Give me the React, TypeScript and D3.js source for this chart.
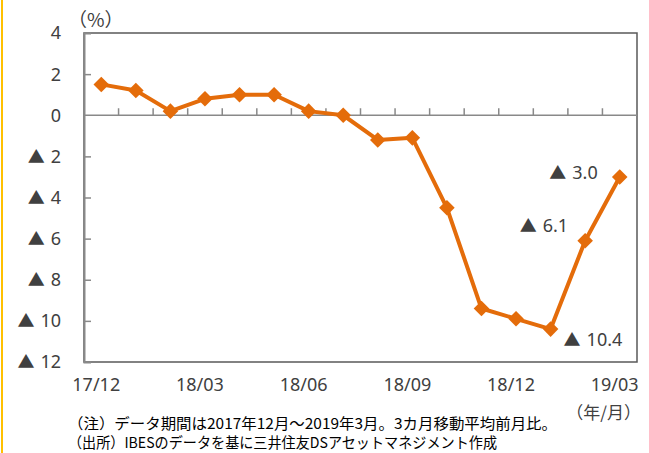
import React, { useEffect, useRef } from 'react';
import * as d3 from 'd3';

// 3カ月移動平均前月比 (%)
const months = [
  '17/12', '18/01', '18/02', '18/03', '18/04', '18/05', '18/06', '18/07',
  '18/08', '18/09', '18/10', '18/11', '18/12', '19/01', '19/02', '19/03',
];
const values = [1.5, 1.2, 0.2, 0.8, 1.0, 1.0, 0.2, 0.0, -1.2, -1.1, -4.5, -9.4, -9.9, -10.4, -6.1, -3.0];
const yTicks = [4, 2, 0, -2, -4, -6, -8, -10, -12];
const xTickLabels = ['17/12', '18/03', '18/06', '18/09', '18/12', '19/03'];
const callouts = [
  { month: '19/01', text: '10.4' },
  { month: '19/02', text: '6.1' },
  { month: '19/03', text: '3.0' },
];
const notes = [
  '（注）データ期間は2017年12月～2019年3月。3カ月移動平均前月比。',
  '（出所）IBESのデータを基に三井住友DSアセットマネジメント作成',
];

const W = 649;
const H = 453;
const NUM_FONT = '"Noto Sans", sans-serif';
const JP_FONT = '"Noto Sans CJK JP", sans-serif';
const TEXT = '#404040';
const ORANGE = '#E46C0A';

// writes "▲ n" with a full-width triangle for negatives
function addNum(sel: any, v: string, neg: boolean) {
  if (neg) {
    sel
      .append('tspan')
      .attr('font-family', JP_FONT)
      .attr('font-size', 17)
      .text('▲');
    sel.append('tspan').attr('dx', 6).text(v);
  } else {
    sel.append('tspan').text(v);
  }
}

export default function App() {
  const ref = useRef<SVGSVGElement>(null);

  useEffect(() => {
    const svg = d3.select(ref.current);
    svg.selectAll('*').remove();

    const margin = { top: 33, right: 12, bottom: 91, left: 84 };
    const x = d3
      .scaleBand()
      .domain(months)
      .range([margin.left, W - margin.right]);
    const y = d3
      .scaleLinear()
      .domain([-12, 4])
      .range([H - margin.bottom, margin.top]);

    // yellow side bar
    svg
      .append('line')
      .attr('x1', 2)
      .attr('x2', 2)
      .attr('y1', 0)
      .attr('y2', H)
      .attr('stroke', '#FFC000')
      .attr('stroke-width', 2);

    // plot border
    svg
      .append('rect')
      .attr('x', margin.left)
      .attr('y', margin.top)
      .attr('width', W - margin.right - margin.left)
      .attr('height', H - margin.bottom - margin.top)
      .attr('fill', 'none')
      .attr('stroke', '#595959')
      .attr('stroke-width', 1.5);

    // left axis with inward ticks
    const yAxis = d3
      .axisRight(y)
      .tickValues(yTicks.filter((v) => v !== 0 && v !== 4 && v !== -12))
      .tickSize(7)
      .tickFormat(() => '');
    const gy = svg
      .append('g')
      .attr('transform', 'translate(' + margin.left + ',0)')
      .call(yAxis);
    gy.select('.domain').attr('stroke', '#898989').attr('stroke-width', 2);
    gy.selectAll('.tick line').attr('stroke', '#898989').attr('stroke-width', 1.5);

    // y labels
    svg
      .append('g')
      .selectAll('text')
      .data(yTicks)
      .enter()
      .append('text')
      .attr('x', 61)
      .attr('y', (d) => y(d))
      .attr('dy', '0.36em')
      .attr('text-anchor', 'end')
      .attr('font-family', NUM_FONT)
      .attr('font-size', 18)
      .attr('fill', TEXT)
      .each(function (d) {
        addNum(d3.select(this), String(Math.abs(d)), d < 0);
      });

    // horizontal axis at zero, ticks between categories pointing up
    const y0 = y(0);
    svg
      .append('line')
      .attr('x1', margin.left)
      .attr('x2', W - margin.right)
      .attr('y1', y0)
      .attr('y2', y0)
      .attr('stroke', '#898989')
      .attr('stroke-width', 1.5);
    svg
      .append('g')
      .selectAll('line')
      .data(months.slice(1))
      .enter()
      .append('line')
      .attr('x1', (d) => x(d)!)
      .attr('x2', (d) => x(d)!)
      .attr('y1', y0)
      .attr('y2', y0 - 7)
      .attr('stroke', '#898989')
      .attr('stroke-width', 1.5);

    // x labels below the plot
    svg
      .append('g')
      .selectAll('text')
      .data(xTickLabels)
      .enter()
      .append('text')
      .attr('x', (d) => x(d)! + x.bandwidth() / 2 - 5)
      .attr('y', 391)
      .attr('text-anchor', 'middle')
      .attr('font-family', NUM_FONT)
      .attr('font-size', 18)
      .attr('fill', TEXT)
      .text((d) => d);

    const cx = (i: number) => x(months[i])! + x.bandwidth() / 2;

    // line
    const line = d3
      .line<number>()
      .x((d, i) => cx(i))
      .y((d) => y(d));
    svg
      .append('path')
      .datum(values)
      .attr('d', line)
      .attr('fill', 'none')
      .attr('stroke', ORANGE)
      .attr('stroke-width', 4)
      .attr('stroke-linejoin', 'round');

    // diamond markers
    svg
      .append('g')
      .selectAll('path')
      .data(values)
      .enter()
      .append('path')
      .attr('d', d3.symbol(d3.symbolSquare, 121)())
      .attr('transform', (d, i) => 'translate(' + cx(i) + ',' + y(d) + ') rotate(45)')
      .attr('fill', ORANGE);

    // value callouts
    const offsets: Record<string, [number, number, string]> = {
      '19/01': [13, 10, 'start'],
      '19/02': [-17, -15, 'end'],
      '19/03': [-22, -4, 'end'],
    };
    callouts.forEach((c) => {
      const i = months.indexOf(c.month);
      const [dx, dy, anchor] = offsets[c.month];
      const t = svg
        .append('text')
        .attr('x', cx(i) + dx)
        .attr('y', y(values[i]) + dy)
        .attr('dy', '0.36em')
        .attr('text-anchor', anchor)
        .attr('font-family', NUM_FONT)
        .attr('font-size', 18)
        .attr('fill', TEXT);
      addNum(t, c.text, true);
    });

    // unit labels
    svg
      .append('text')
      .attr('x', 68)
      .attr('y', 27)
      .attr('font-family', JP_FONT)
      .attr('font-size', 19)
      .attr('fill', TEXT)
      .text('（%）');
    svg
      .append('text')
      .attr('x', 641)
      .attr('y', 419)
      .attr('text-anchor', 'end')
      .attr('font-family', JP_FONT)
      .attr('font-size', 17)
      .attr('fill', TEXT)
      .text('（年/月）');

    // notes
    const noteWidths = [489, 429];
    svg
      .append('g')
      .selectAll('text')
      .data(notes)
      .enter()
      .append('text')
      .attr('x', 68)
      .attr('y', (d, i) => 429 + i * 19)
      .attr('font-family', JP_FONT)
      .attr('font-size', 15)
      .attr('textLength', (d, i) => noteWidths[i])
      .attr('lengthAdjust', 'spacingAndGlyphs')
      .attr('fill', '#000')
      .text((d) => d);
  }, []);

  return (
    <svg
      ref={ref}
      width={W}
      height={H}
      style={{ position: 'absolute', left: 0, top: 0, background: '#fff' }}
    />
  );
}
